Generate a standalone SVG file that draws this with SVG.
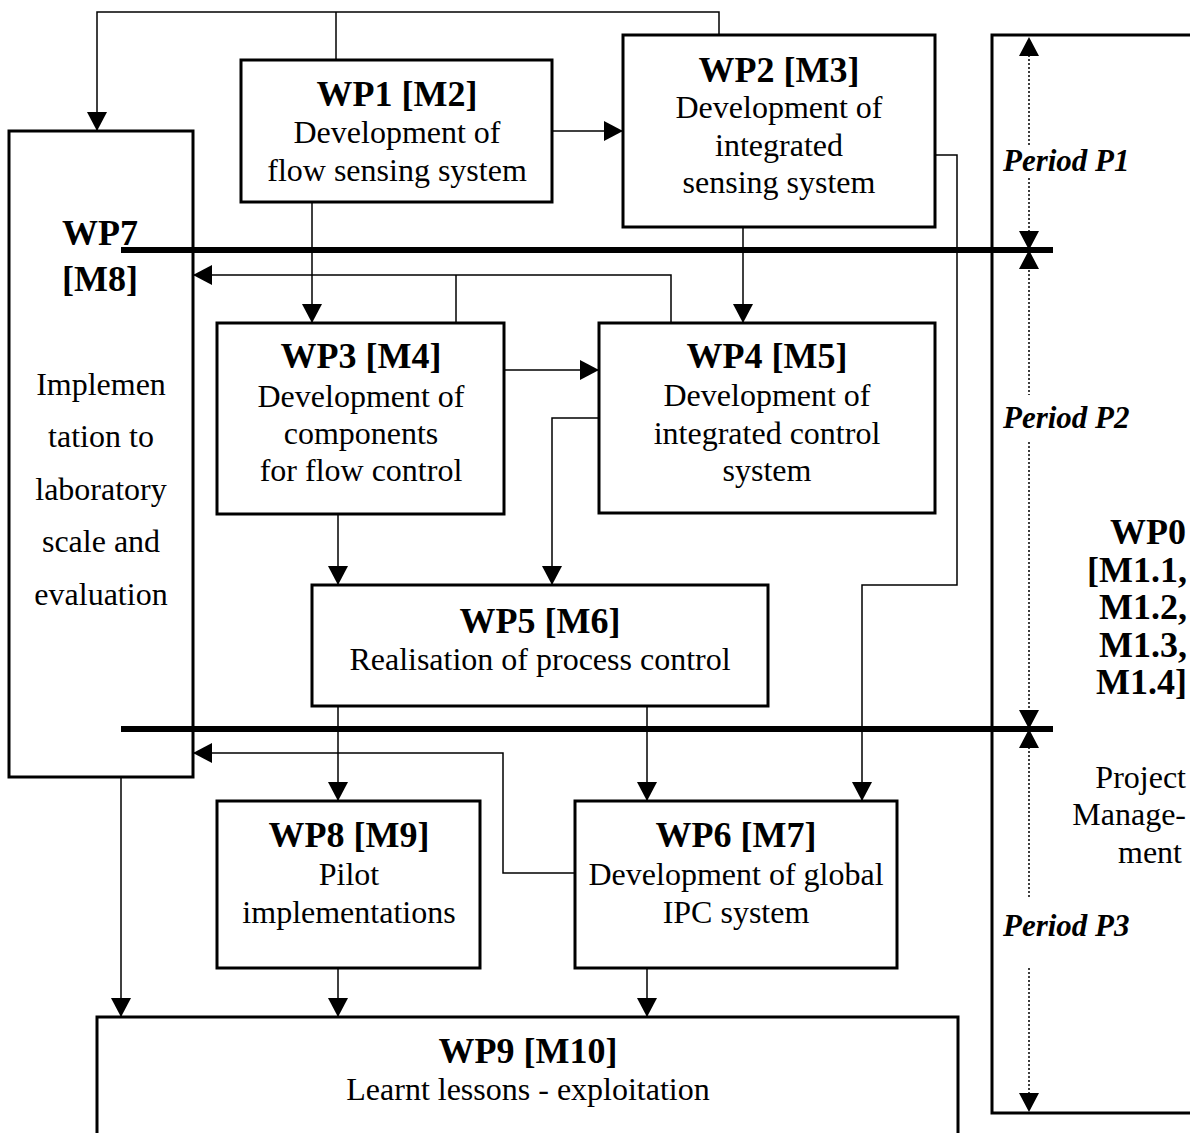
<svg xmlns="http://www.w3.org/2000/svg" width="1190" height="1133" viewBox="0 0 1190 1133">
<style>
.box{fill:#fff;stroke:#000;stroke-width:3}
.t{font-family:"Liberation Serif","Times New Roman",serif;font-weight:bold;font-size:36px;text-anchor:middle;fill:#000}
.b{font-family:"Liberation Serif","Times New Roman",serif;font-size:32px;text-anchor:middle;fill:#000}
.p{font-family:"Liberation Serif","Times New Roman",serif;font-weight:bold;font-style:italic;font-size:31px;fill:#000}
.c{fill:none;stroke:#000;stroke-width:1.5}
.bar{stroke:#000;stroke-width:6}
.dot{stroke:#000;stroke-width:1.5;stroke-dasharray:2,2}
</style>
<defs>
<marker id="ah" markerUnits="userSpaceOnUse" markerWidth="20" markerHeight="20" refX="19" refY="10" orient="auto">
<path d="M0,0 L19,10 L0,20 z" fill="#000"/>
</marker>
</defs>
<rect width="1190" height="1133" fill="#fff"/>
<g id="connectors">
<path class="c" d="M336,60 V12"/>
<path class="c" d="M719,35 V12 H97 V131" marker-end="url(#ah)"/>
<path class="c" d="M552,131 H623" marker-end="url(#ah)"/>
<path class="c" d="M312,202 V323" marker-end="url(#ah)"/>
<path class="c" d="M743,227 V323" marker-end="url(#ah)"/>
<path class="c" d="M456,323 V275"/>
<path class="c" d="M671,323 V275 H193" marker-end="url(#ah)"/>
<path class="c" d="M504,370 H599" marker-end="url(#ah)"/>
<path class="c" d="M599,418 H552 V585" marker-end="url(#ah)"/>
<path class="c" d="M338,514 V585" marker-end="url(#ah)"/>
<path class="c" d="M935,155 H957 V585 H862 V801" marker-end="url(#ah)"/>
<path class="c" d="M338,706 V801" marker-end="url(#ah)"/>
<path class="c" d="M647,706 V801" marker-end="url(#ah)"/>
<path class="c" d="M575,873 H503 V753 H193" marker-end="url(#ah)"/>
<path class="c" d="M121,777 V1017" marker-end="url(#ah)"/>
<path class="c" d="M338,968 V1017" marker-end="url(#ah)"/>
<path class="c" d="M647,968 V1017" marker-end="url(#ah)"/>
</g>
<g id="WP0">
<path class="box" d="M1195,35 H992 V1113 H1195"/>
<text class="t" style="text-anchor:end" x="1186" y="544">WP0</text>
<text class="t" style="text-anchor:end" x="1187" y="582">[M1.1,</text>
<text class="t" style="text-anchor:end" x="1187" y="619">M1.2,</text>
<text class="t" style="text-anchor:end" x="1187" y="657">M1.3,</text>
<text class="t" style="text-anchor:end" x="1187" y="694">M1.4]</text>
<text class="b" style="text-anchor:end" x="1186" y="788">Project</text>
<text class="b" style="text-anchor:end" x="1186" y="825">Manage-</text>
<text class="b" style="text-anchor:end" x="1182" y="863">ment</text>
</g>
<g id="periods">
<path class="dot" d="M1029,55 V147 M1029,178 V232 M1029,270 V395 M1029,442 V711 M1029,747 V898 M1029,968 V1094"/>
<path d="M1019,56 L1029,37 L1039,56 z M1019,231 L1029,250 L1039,231 z M1019,269 L1029,250 L1039,269 z M1019,710 L1029,729 L1039,710 z M1019,748 L1029,729 L1039,748 z M1019,1093 L1029,1112 L1039,1093 z" fill="#000"/>
<text class="p" x="1003" y="171">Period P1</text>
<text class="p" x="1003" y="428">Period P2</text>
<text class="p" x="1003" y="936">Period P3</text>
</g>
<g id="WP7">
<rect class="box" x="9" y="131" width="184" height="646"/>
<text class="t" x="100" y="245">WP7</text>
<text class="t" x="100" y="291">[M8]</text>
<text class="b" x="101" y="395">Implemen</text>
<text class="b" x="101" y="447">tation to</text>
<text class="b" x="101" y="500">laboratory</text>
<text class="b" x="101" y="552">scale and</text>
<text class="b" x="101" y="605">evaluation</text>
</g>
<g id="WP1">
<rect class="box" x="241" y="60" width="311" height="142"/>
<text class="t" x="397" y="106">WP1 [M2]</text>
<text class="b" x="397" y="143">Development of</text>
<text class="b" x="397" y="181">flow sensing system</text>
</g>
<g id="WP2">
<rect class="box" x="623" y="35" width="312" height="192"/>
<text class="t" x="779" y="82">WP2 [M3]</text>
<text class="b" x="779" y="118">Development of</text>
<text class="b" x="779" y="156">integrated</text>
<text class="b" x="779" y="193">sensing system</text>
</g>
<g id="WP3">
<rect class="box" x="217" y="323" width="287" height="191"/>
<text class="t" x="361" y="368">WP3 [M4]</text>
<text class="b" x="361" y="407">Development of</text>
<text class="b" x="361" y="444">components</text>
<text class="b" x="361" y="481">for flow control</text>
</g>
<g id="WP4">
<rect class="box" x="599" y="323" width="336" height="190"/>
<text class="t" x="767" y="368">WP4 [M5]</text>
<text class="b" x="767" y="406">Development of</text>
<text class="b" x="767" y="444">integrated control</text>
<text class="b" x="767" y="481">system</text>
</g>
<g id="WP5">
<rect class="box" x="312" y="585" width="456" height="121"/>
<text class="t" x="540" y="633">WP5 [M6]</text>
<text class="b" x="540" y="670">Realisation of process control</text>
</g>
<g id="WP8">
<rect class="box" x="217" y="801" width="263" height="167"/>
<text class="t" x="349" y="847">WP8 [M9]</text>
<text class="b" x="349" y="885">Pilot</text>
<text class="b" x="349" y="923">implementations</text>
</g>
<g id="WP6">
<rect class="box" x="575" y="801" width="322" height="167"/>
<text class="t" x="736" y="847">WP6 [M7]</text>
<text class="b" x="736" y="885">Development of global</text>
<text class="b" x="736" y="923">IPC system</text>
</g>
<g id="WP9">
<path class="box" d="M97,1140 V1017 H958 V1140"/>
<text class="t" x="528" y="1063">WP9 [M10]</text>
<text class="b" x="528" y="1100">Learnt lessons - exploitation</text>
</g>
<g id="bars">
<line class="bar" x1="121" y1="250" x2="1053" y2="250"/>
<line class="bar" x1="121" y1="729" x2="1053" y2="729"/>
</g>
</svg>
